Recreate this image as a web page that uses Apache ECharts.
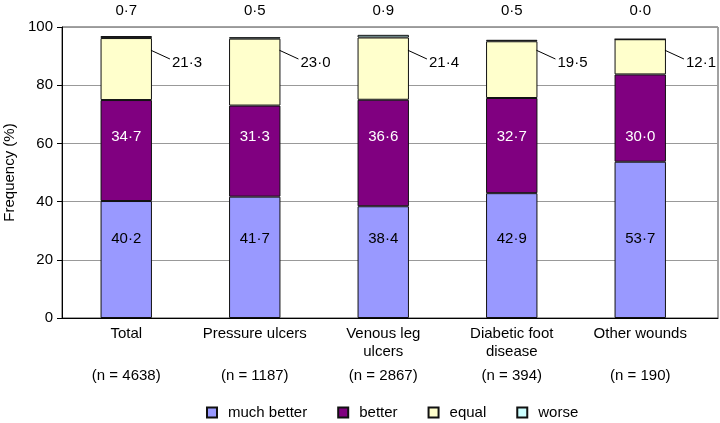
<!DOCTYPE html>
<html>
<head>
<meta charset="utf-8">
<style>
  html, body { margin: 0; padding: 0; background: #fff; }
  #chart { width: 720px; height: 423px; }
</style>
<script src="https://cdn.jsdelivr.net/npm/echarts@6/dist/echarts.min.js"></script>
</head>
<body>
<div id="chart"></div>
<script>
// ---- data ----
const categories = ['Total', 'Pressure ulcers', 'Venous leg\nulcers', 'Diabetic foot\ndisease', 'Other wounds'];
const nValues = [4638, 1187, 2867, 394, 190];
const muchBetter = [40.2, 41.7, 38.4, 42.9, 53.7];
const better = [34.7, 31.3, 36.6, 32.7, 30.0];
const equal = [21.3, 23.0, 21.4, 19.5, 12.1];
const worse = [0.7, 0.5, 0.9, 0.5, 0.0];
const seriesNames = ['much better', 'better', 'equal', 'worse'];
const yTicks = { min: 0, max: 100, interval: 20 };

// ---- styling ----
const FONT = '"Liberation Sans", Arial, sans-serif';
const colors = ['#9999FF', '#800080', '#FFFFCC', '#CCFFFF'];
// fixed label anchor heights (axis units), as placed in the original figure
const ANCHOR = { mb: 27.1, b: 62.2, eqLineStart: 92.0, eqLineEnd: 89.0, eqText: 87.6, top: 105.5 };

const fmt = v => v.toFixed(1).replace('.', '\u00B7');

const chart = echarts.init(document.getElementById('chart'), null, { renderer: 'canvas' });

const barSeries = [muchBetter, better, equal, worse].map((arr, k) => ({
  name: seriesNames[k],
  type: 'bar',
  stack: 'total',
  xAxisIndex: 0,
  yAxisIndex: 0,
  barWidth: '40%',
  data: arr,
  itemStyle: { color: colors[k], borderColor: '#111', borderWidth: 1 },
  emphasis: { disabled: true },
  silent: true
}));

const labelRows = categories.map((c, i) => [i, muchBetter[i], better[i], equal[i], worse[i]]);

function renderLabels(params, api) {
  const i = api.value(0);
  const half = api.size([1, 0])[0] * 0.2;
  const cx = api.coord([i, 0])[0];
  const yMB = api.coord([i, ANCHOR.mb])[1];
  const yB = api.coord([i, ANCHOR.b])[1];
  const yLs = api.coord([i, ANCHOR.eqLineStart])[1];
  const yLe = api.coord([i, ANCHOR.eqLineEnd])[1];
  const yEq = api.coord([i, ANCHOR.eqText])[1];
  const yTop = api.coord([i, ANCHOR.top])[1];
  const right = cx + half;
  const txt = (text, x, y, fill, align) => ({
    type: 'text',
    style: { text, x, y, fill, align: align || 'center', verticalAlign: 'middle', fontSize: 15, fontFamily: FONT }
  });
  return {
    type: 'group',
    children: [
      txt(fmt(api.value(1)), cx, yMB, '#000'),
      txt(fmt(api.value(2)), cx, yB, '#fff'),
      { type: 'line', shape: { x1: right - 1, y1: yLs, x2: right + 18, y2: yLe }, style: { stroke: '#000', lineWidth: 1 } },
      txt(fmt(api.value(3)), right + 20, yEq, '#000', 'left'),
      txt(fmt(api.value(4)), cx, yTop, '#000')
    ]
  };
}

const option = {
  backgroundColor: '#fff',
  animation: false,
  textStyle: { fontFamily: FONT },
  grid: [
    { left: 62, right: 15.5, top: 27, bottom: 105, containLabel: false, outerBoundsMode: 'none' },
    { left: 62, right: 2, top: 27, bottom: 105, containLabel: false, outerBoundsMode: 'none', show: true, borderColor: '#444', borderWidth: 1, backgroundColor: 'transparent' }
  ],
  legend: {
    data: seriesNames,
    left: 201,
    top: 400,
    icon: 'rect',
    itemWidth: 10,
    itemHeight: 10,
    itemGap: 30,
    selectedMode: false,
    textStyle: { fontSize: 15, color: '#000', fontFamily: FONT, padding: [0, 0, 0, 6] }
  },
  xAxis: [
    {
      type: 'category',
      gridIndex: 0,
      data: categories,
      axisLine: { show: false },
      axisTick: { show: false },
      axisLabel: {
        margin: 7,
        interval: 0,
        color: '#000',
        formatter: (value, idx) => {
          const lines = value.split('\n');
          while (lines.length < 2) lines.push(' ');
          return lines.map(l => '{a|' + l + '}').join('\n') + '\n{n|(n = ' + nValues[idx] + ')}';
        },
        rich: {
          a: { fontSize: 15, lineHeight: 18, fontFamily: FONT, color: '#000', align: 'center' },
          n: { fontSize: 15, lineHeight: 30, fontFamily: FONT, color: '#000', align: 'center' }
        }
      }
    },
    {
      type: 'value',
      gridIndex: 1,
      min: 0,
      max: 1,
      axisLine: { show: true, lineStyle: { color: '#000', width: 1 } },
      axisTick: { show: false },
      axisLabel: { show: false },
      splitLine: { show: false }
    }
  ],
  yAxis: [
    {
      type: 'value',
      gridIndex: 0,
      min: yTicks.min,
      max: yTicks.max,
      interval: yTicks.interval,
      name: 'Frequency (%)',
      nameLocation: 'middle',
      nameGap: 42,
      nameTextStyle: { fontSize: 15, color: '#000', fontFamily: FONT },
      axisLine: { show: true, lineStyle: { color: '#000', width: 1 } },
      axisTick: { show: true, inside: false, length: 5, lineStyle: { color: '#000' } },
      axisLabel: { margin: 9, fontSize: 15, color: '#000', fontFamily: FONT },
      splitLine: { show: false }
    },
    {
      type: 'value',
      gridIndex: 1,
      min: yTicks.min,
      max: yTicks.max,
      interval: yTicks.interval,
      axisLine: { show: false },
      axisTick: { show: false },
      axisLabel: { show: false },
      splitLine: { show: true, lineStyle: { color: '#999', width: 1 } }
    }
  ],
  series: [
    ...barSeries,
    {
      name: 'labels',
      type: 'custom',
      xAxisIndex: 0,
      yAxisIndex: 0,
      data: labelRows,
      renderItem: renderLabels,
      clip: false,
      silent: true,
      z: 10
    }
  ]
};

chart.setOption(option);
</script>
</body>
</html>
